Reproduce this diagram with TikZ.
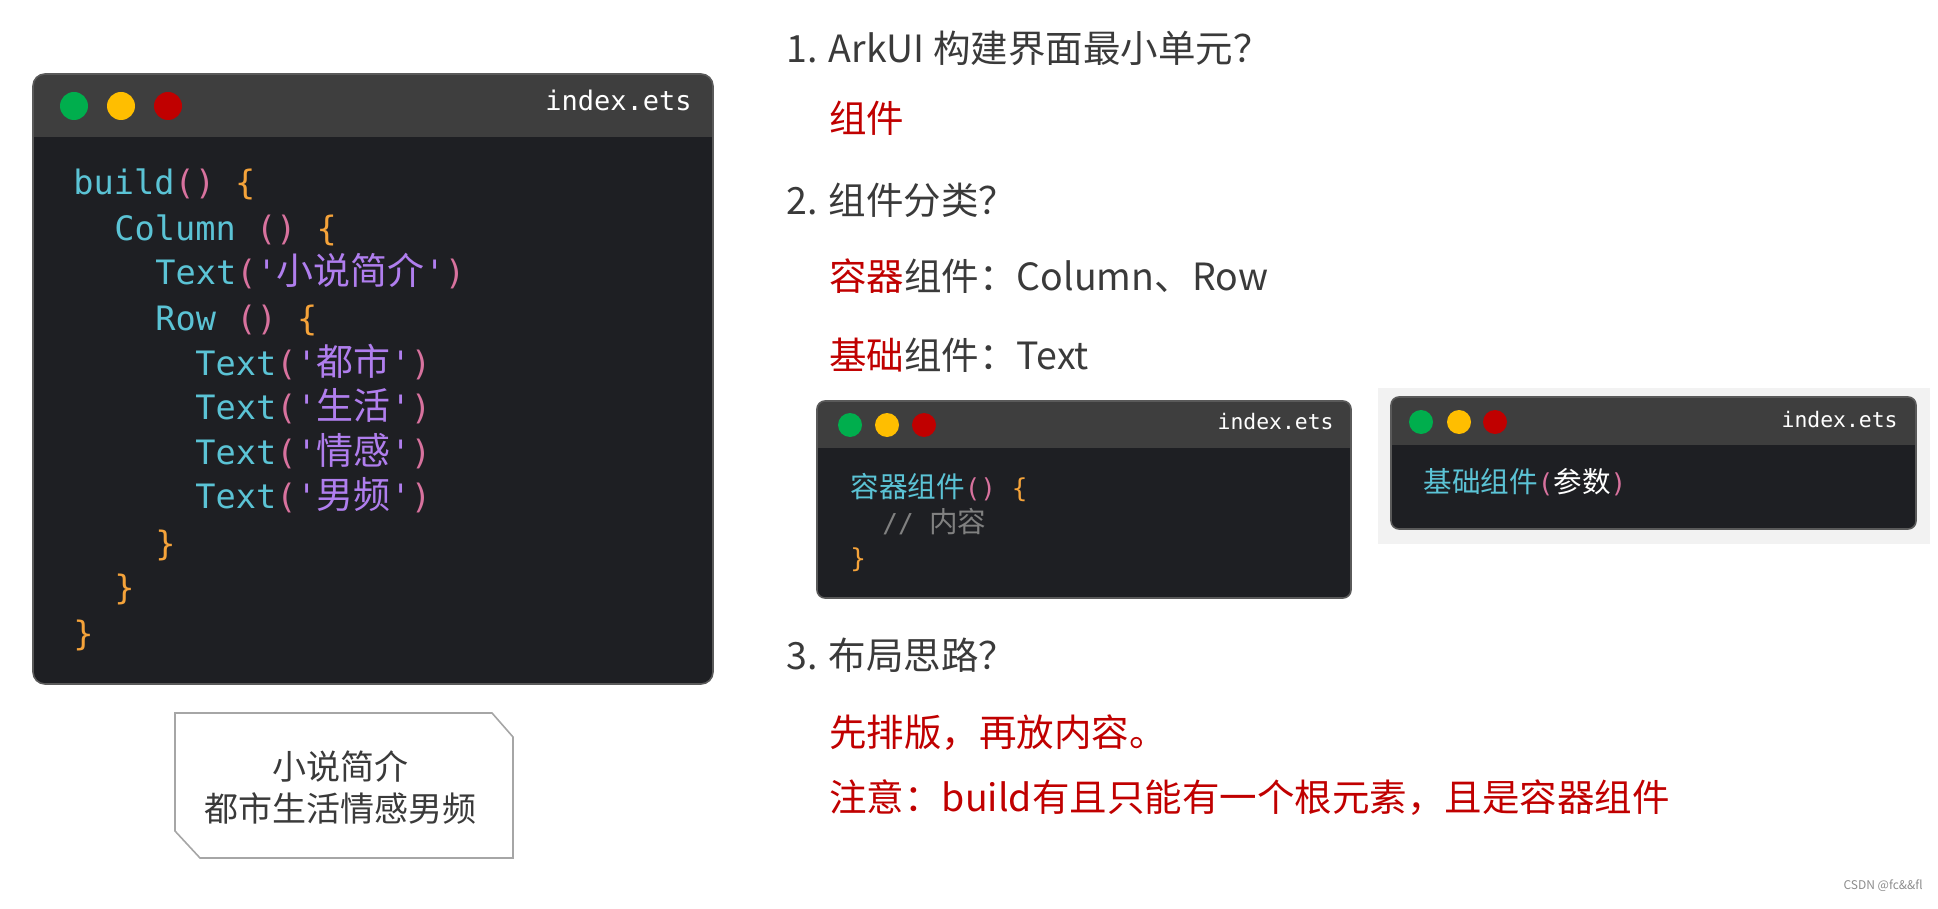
\documentclass[tikz,border=0pt]{standalone}
\usepackage{fontspec}
\setmainfont{Noto Sans CJK SC}
\setmonofont{DejaVu Sans Mono}
\newfontfamily\codecjk{Noto Sans CJK SC}[Scale=1.1]

\definecolor{winbody}{HTML}{1E1F23}
\definecolor{winbar}{HTML}{3E3E3E}
\definecolor{winedge}{HTML}{5A5A5A}
\definecolor{dotgreen}{HTML}{00AE4D}
\definecolor{dotyellow}{HTML}{FFBE00}
\definecolor{dotred}{HTML}{C00000}
\definecolor{kwcyan}{HTML}{5BC3D5}
\definecolor{parpink}{HTML}{D8729E}
\definecolor{braceorange}{HTML}{F5A33A}
\definecolor{strpurple}{HTML}{B07EEE}
\definecolor{cmtgray}{HTML}{808080}
\definecolor{txtgray}{HTML}{3A3A3A}
\definecolor{hired}{HTML}{C00000}
\definecolor{notegray}{HTML}{A6A6A6}

\newcommand{\ckw}[1]{\textcolor{kwcyan}{#1}}
\newcommand{\cpar}[1]{\textcolor{parpink}{#1}}
\newcommand{\cbrace}[1]{\textcolor{braceorange}{#1}}
\newcommand{\cstr}[1]{\textcolor{strpurple}{\textquotesingle{\codecjk #1}\textquotesingle}}
\newcommand{\ctext}[1]{\ckw{Text}\cpar{(}\cstr{#1}\cpar{)}}

\begin{document}
\begin{tikzpicture}[x=0.5pt, y=-0.5pt,
	win/.style = {fill=winbody},
	bar/.style = {fill=winbar},
	frame/.style = {draw=winedge, line width=0.8pt},
	dot/.style = {circle, inner sep=0pt, minimum size=14pt},
	smalldot/.style = {circle, inner sep=0pt, minimum size=12pt},
	code/.style = {anchor=base west, inner sep=0pt, font=\ttfamily\fontsize{16.8}{20}\selectfont},
	smallcode/.style = {anchor=base west, inner sep=0pt, font=\ttfamily\fontsize{13}{16}\selectfont},
	fname/.style = {anchor=base east, inner sep=0pt, text=white, font=\ttfamily\fontsize{13.5}{16}\selectfont},
	smallfname/.style = {anchor=base east, inner sep=0pt, text=white, font=\ttfamily\fontsize{10.7}{13}\selectfont},
	heading/.style = {anchor=base west, inner sep=0pt, text=txtgray, font=\fontsize{18.75}{22}\selectfont},
	answer/.style = {heading, text=hired}]

	\useasboundingbox (0,0) rectangle (1938,909);

	% main code window
	\coordinate (w0) at (33,74);
	\coordinate (w1) at (713,684);
	\coordinate (wb) at (713,137);
	\fill[win, rounded corners=6pt] (w0) rectangle (w1);
	\begin{scope}
		\clip[rounded corners=6pt] (w0) rectangle (w1);
		\fill[bar] (w0) rectangle (wb);
	\end{scope}
	\draw[frame, rounded corners=6pt] (w0) rectangle (w1);

	\node[dot, fill=dotgreen] (g0) at (74,106) {};
	\node[dot, fill=dotyellow] (y0) at (121,106) {};
	\node[dot, fill=dotred] (r0) at (168,106) {};
	\node[fname] (f0) at (692,111) {index.ets};

	\node[code] (c1) at (73,195) {\ckw{build}\cpar{()} \cbrace{\{}};
	\node[code] (c2) at (114,241) {\ckw{Column} \cpar{()} \cbrace{\{}};
	\node[code] (c3) at (155,285) {\ctext{小说简介}};
	\node[code] (c4) at (155,330) {\ckw{Row} \cpar{()} \cbrace{\{}};
	\node[code] (c5) at (195,375) {\ctext{都市}};
	\node[code] (c6) at (195,419) {\ctext{生活}};
	\node[code] (c7) at (195,464) {\ctext{情感}};
	\node[code] (c8) at (195,508) {\ctext{男频}};
	\node[code] (c9) at (155,555) {\cbrace{\}}};
	\node[code] (c10) at (114,599) {\cbrace{\}}};
	\node[code] (c11) at (73,645) {\cbrace{\}}};

	% preview note
	\coordinate (n0) at (175,713);
	\coordinate (n1) at (492,713);
	\coordinate (n2) at (513,737);
	\coordinate (n3) at (513,858);
	\coordinate (n4) at (200,858);
	\coordinate (n5) at (175,831);
	\fill[black!25, xshift=1.5pt, yshift=-1.5pt] (n0) -- (n1) -- (n2) -- (n3) -- (n4) -- (n5) -- cycle;
	\draw[notegray, fill=white, line width=0.8pt] (n0) -- (n1) -- (n2) -- (n3) -- (n4) -- (n5) -- cycle;
	\node[text=txtgray, font=\fontsize{17}{20}\selectfont, align=center, inner sep=0pt] (note) at (340,788)
		{小说简介\\[1pt]都市生活情感男频};

	% questions
	\node[heading] (q1) at (786,63) {1. ArkUI 构建界面最小单元？};
	\node[answer] (a1) at (829,133) {组件};
	\node[heading] (q2) at (786,215) {2. 组件分类？};
	\node[heading] (a2) at (829,291) {\textcolor{hired}{容器}组件：Column、Row};
	\node[heading] (a3) at (829,369) {\textcolor{hired}{基础}组件：Text};
	\node[heading] (q3) at (786,669) {3. 布局思路？};
	\node[answer] (a4) at (829,746) {先排版，再放内容。};
	\node[answer] (a5) at (829,811) {注意：build有且只能有一个根元素，且是容器组件};

	% container window
	\coordinate (s0) at (817,401);
	\coordinate (s1) at (1351,598);
	\coordinate (sb) at (1351,448);
	\fill[win, rounded corners=4pt] (s0) rectangle (s1);
	\begin{scope}
		\clip[rounded corners=4pt] (s0) rectangle (s1);
		\fill[bar] (s0) rectangle (sb);
	\end{scope}
	\draw[frame, rounded corners=4pt] (s0) rectangle (s1);
	\node[smalldot, fill=dotgreen] (g1) at (850,425) {};
	\node[smalldot, fill=dotyellow] (y1) at (887,425) {};
	\node[smalldot, fill=dotred] (r1) at (924,425) {};
	\node[smallfname] (f1) at (1334,429) {index.ets};
	\node[smallcode] (k1) at (850,497) {\ckw{\codecjk 容器组件}\cpar{()} \cbrace{\{}};
	\node[smallcode] (k2) at (882,532) {\textcolor{cmtgray}{// {\codecjk 内容}}};
	\node[smallcode] (k3) at (850,567) {\cbrace{\}}};

	% basic window
	\fill[black!5] (1378,388) rectangle (1930,544);
	\coordinate (t0) at (1391,397);
	\coordinate (t1) at (1916,529);
	\coordinate (tb) at (1916,445);
	\fill[win, rounded corners=4pt] (t0) rectangle (t1);
	\begin{scope}
		\clip[rounded corners=4pt] (t0) rectangle (t1);
		\fill[bar] (t0) rectangle (tb);
	\end{scope}
	\draw[frame, rounded corners=4pt] (t0) rectangle (t1);
	\node[smalldot, fill=dotgreen] (g2) at (1421,422) {};
	\node[smalldot, fill=dotyellow] (y2) at (1459,422) {};
	\node[smalldot, fill=dotred] (r2) at (1495,422) {};
	\node[smallfname] (f2) at (1898,427) {index.ets};
	\node[smallcode] (k4) at (1423,492) {\ckw{\codecjk 基础组件}\cpar{(}\textcolor{white}{\codecjk 参数}\cpar{)}};

	\node[anchor=base east, inner sep=0pt, text=black!45, font=\fontsize{6}{7}\selectfont] (mark) at (1923,889) {CSDN @fc\&\&fl};
\end{tikzpicture}
\end{document}
